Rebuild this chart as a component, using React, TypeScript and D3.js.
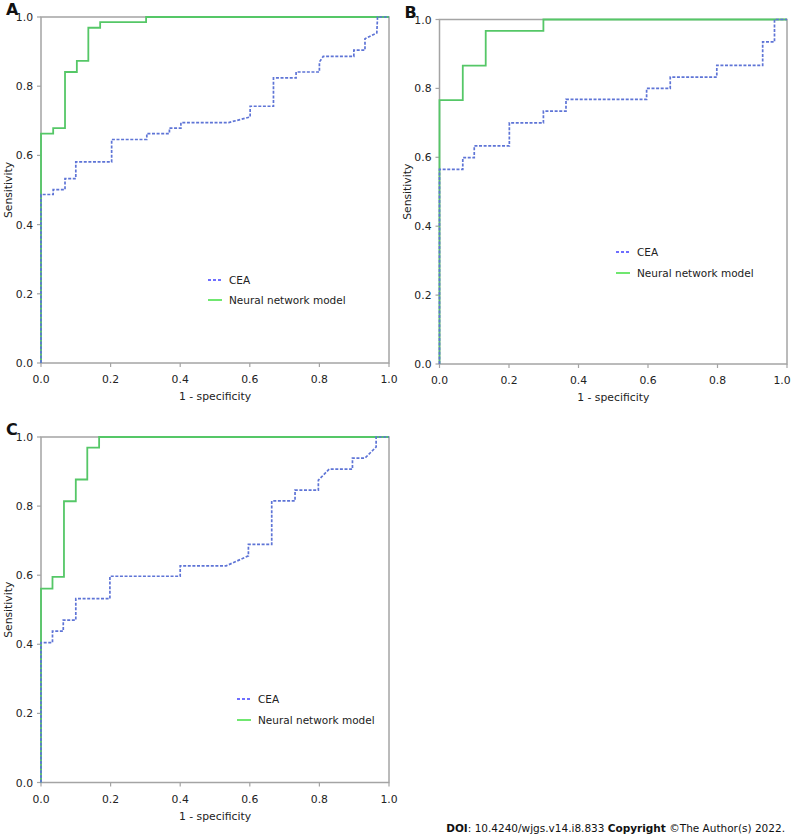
import React from "react";
import * as d3 from "d3";

// ---- Data (ROC coordinates) ----
const ticks = [0, 0.2, 0.4, 0.6, 0.8, 1.0];
const seriesNames = ["CEA", "Neural network model"];

// Panel A
const aCeaFpr = [0, 0, 0.035, 0.035, 0.069, 0.069, 0.1, 0.1, 0.203, 0.203, 0.304, 0.304, 0.369, 0.369, 0.402, 0.402, 0.539, 0.601, 0.601, 0.668, 0.668, 0.733, 0.733, 0.8, 0.8, 0.811, 0.899, 0.899, 0.931, 0.931, 0.965, 0.967, 1];
const aCeaTpr = [0, 0.487, 0.487, 0.501, 0.501, 0.533, 0.533, 0.581, 0.581, 0.646, 0.646, 0.663, 0.663, 0.679, 0.679, 0.695, 0.695, 0.711, 0.742, 0.742, 0.824, 0.824, 0.841, 0.841, 0.87, 0.886, 0.886, 0.904, 0.904, 0.937, 0.954, 1, 1];
const aNnFpr = [0, 0, 0.035, 0.035, 0.069, 0.069, 0.103, 0.103, 0.136, 0.136, 0.17, 0.17, 0.302, 0.302, 1];
const aNnTpr = [0, 0.663, 0.663, 0.679, 0.679, 0.841, 0.841, 0.873, 0.873, 0.969, 0.969, 0.985, 0.985, 1, 1];

// Panel B
const bCeaFpr = [0, 0, 0.067, 0.067, 0.1, 0.1, 0.201, 0.201, 0.299, 0.299, 0.364, 0.364, 0.596, 0.596, 0.664, 0.664, 0.798, 0.798, 0.93, 0.93, 0.964, 0.964, 1];
const bCeaTpr = [0, 0.565, 0.565, 0.599, 0.599, 0.633, 0.633, 0.7, 0.7, 0.734, 0.734, 0.768, 0.768, 0.8, 0.8, 0.833, 0.833, 0.867, 0.867, 0.935, 0.935, 1, 1];
const bNnFpr = [0, 0, 0.067, 0.067, 0.133, 0.133, 0.299, 0.299, 1];
const bNnTpr = [0, 0.766, 0.766, 0.866, 0.866, 0.967, 0.967, 1, 1];

// Panel C
const cCeaFpr = [0, 0, 0.033, 0.033, 0.064, 0.064, 0.1, 0.1, 0.198, 0.198, 0.4, 0.4, 0.532, 0.596, 0.596, 0.663, 0.663, 0.73, 0.73, 0.797, 0.797, 0.828, 0.895, 0.895, 0.931, 0.963, 0.963, 1];
const cCeaTpr = [0, 0.405, 0.405, 0.438, 0.438, 0.47, 0.47, 0.532, 0.532, 0.597, 0.597, 0.627, 0.627, 0.656, 0.689, 0.689, 0.815, 0.815, 0.846, 0.846, 0.875, 0.907, 0.907, 0.939, 0.939, 0.971, 1, 1];
const cNnFpr = [0, 0, 0.033, 0.033, 0.066, 0.066, 0.1, 0.1, 0.133, 0.133, 0.167, 0.167, 1];
const cNnTpr = [0, 0.561, 0.561, 0.595, 0.595, 0.814, 0.814, 0.877, 0.877, 0.969, 0.969, 1, 1];

const FONT = "'DejaVu Sans', Verdana, sans-serif";
const FRAME = "#a4a4a4";
const CEA_COLOR = "#5e74d6";
const NN_COLOR = "#55c767";
const W = 792;
const H = 838;

type PanelProps = {
  label: string;
  left: number; right: number; top: number; bottom: number;
  ceaFpr: number[]; ceaTpr: number[]; nnFpr: number[]; nnTpr: number[];
  legendX: number; legendY: number; legendGap: number;
};

function Panel(p: PanelProps) {
  const x = d3.scaleLinear().domain([0, 1]).range([p.left, p.right]);
  const y = d3.scaleLinear().domain([0, 1]).range([p.bottom, p.top]);
  const line = d3.line<[number, number]>().x(d => x(d[0])).y(d => y(d[1]));
  const cea = line(p.ceaFpr.map((v, i) => [v, p.ceaTpr[i]] as [number, number])) || "";
  const nn = line(p.nnFpr.map((v, i) => [v, p.nnTpr[i]] as [number, number])) || "";
  const fmt = d3.format(".1f");
  const midX = (p.left + p.right) / 2;
  const midY = (p.top + p.bottom) / 2;
  return (
    <g>
      <text x={p.left - 35} y={p.top - 2} fontFamily={FONT} fontWeight="bold" fontSize={16} fill="#111">{p.label}</text>
      {/* frame */}
      <rect x={p.left} y={p.top} width={p.right - p.left} height={p.bottom - p.top} fill="none" stroke={FRAME} strokeWidth={1.5} />
      {/* y ticks */}
      {ticks.map(t => (
        <g key={"y" + t}>
          <line x1={p.left - 4} x2={p.left} y1={y(t)} y2={y(t)} stroke={FRAME} strokeWidth={1.2} />
          <text x={p.left - 8} y={y(t) + 4} textAnchor="end" fontFamily={FONT} fontSize={10.8} fill="#222">{fmt(t)}</text>
        </g>
      ))}
      {ticks.map(t => (
        <g key={"x" + t}>
          <line x1={x(t)} x2={x(t)} y1={p.bottom} y2={p.bottom + 4} stroke={FRAME} strokeWidth={1.2} />
          <text x={Math.min(x(t), W - 10)} y={p.bottom + 20} textAnchor="middle" fontFamily={FONT} fontSize={10.8} fill="#222">{fmt(t)}</text>
        </g>
      ))}
      <text x={midX} y={p.bottom + 37} textAnchor="middle" fontFamily={FONT} fontSize={10.8} fill="#222">1 - specificity</text>
      <text transform={`translate(${p.left - 29},${midY}) rotate(-90)`} textAnchor="middle" fontFamily={FONT} fontSize={10.8} fill="#222">Sensitivity</text>
      {/* curves */}
      <path d={nn} fill="none" stroke={NN_COLOR} strokeWidth={1.8} />
      <path d={cea} fill="none" stroke={CEA_COLOR} strokeWidth={1.7} strokeDasharray="3 1.6" />
      {/* legend */}
      <line x1={p.legendX} x2={p.legendX + 14} y1={p.legendY} y2={p.legendY} stroke="#3f3fff" strokeWidth={1.4} strokeDasharray="3 2" />
      <text x={p.legendX + 21} y={p.legendY + 4} fontFamily={FONT} fontSize={10.5} fill="#222">{seriesNames[0]}</text>
      <line x1={p.legendX} x2={p.legendX + 14} y1={p.legendY + p.legendGap} y2={p.legendY + p.legendGap} stroke="#33dd33" strokeWidth={1.4} />
      <text x={p.legendX + 21} y={p.legendY + p.legendGap + 4} fontFamily={FONT} fontSize={10.5} fill="#222">{seriesNames[1]}</text>
    </g>
  );
}

export default function App() {
  return (
    <svg width={W} height={H} style={{ position: "absolute", left: 0, top: 0, background: "#fff" }}>
      <rect width={W} height={H} fill="#fff" />
      <Panel label="A" left={41} right={389} top={17} bottom={363}
        ceaFpr={aCeaFpr} ceaTpr={aCeaTpr} nnFpr={aNnFpr} nnTpr={aNnTpr}
        legendX={208} legendY={280} legendGap={20} />
      <Panel label="B" left={439.5} right={787} top={19.5} bottom={364}
        ceaFpr={bCeaFpr} ceaTpr={bCeaTpr} nnFpr={bNnFpr} nnTpr={bNnTpr}
        legendX={616} legendY={252} legendGap={21} />
      <Panel label="C" left={41} right={389} top={437} bottom={782.5}
        ceaFpr={cCeaFpr} ceaTpr={cCeaTpr} nnFpr={cNnFpr} nnTpr={cNnTpr}
        legendX={237} legendY={699} legendGap={21} />
      <text x={785} y={832} textAnchor="end" fontFamily={FONT} fontSize={10.5} fill="#111">
        <tspan fontWeight="bold">DOI</tspan>: 10.4240/wjgs.v14.i8.833 <tspan fontWeight="bold">Copyright</tspan> ©The Author(s) 2022.
      </text>
    </svg>
  );
}
